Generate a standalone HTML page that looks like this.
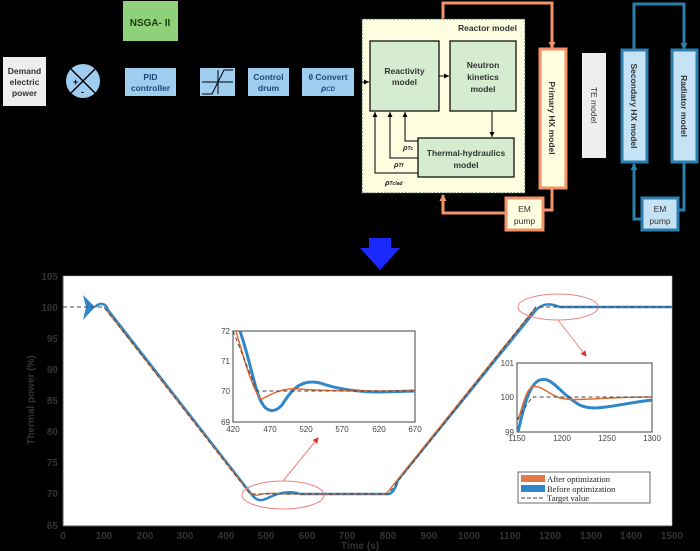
<!DOCTYPE html>
<html><head><meta charset="utf-8"><style>
html,body{margin:0;padding:0;background:#000;}
svg{display:block;font-family:"Liberation Sans",sans-serif;}
</style></head><body>
<svg width="700" height="551" viewBox="0 0 700 551" xmlns="http://www.w3.org/2000/svg">
<rect width="700" height="551" fill="#000"/>
<defs>
<marker id="ak" markerUnits="userSpaceOnUse" markerWidth="5" markerHeight="5" refX="5" refY="2.5" orient="auto"><path d="M0,0 L5,2.5 L0,5z" fill="#000"/></marker>
<marker id="ao" markerUnits="userSpaceOnUse" markerWidth="7" markerHeight="7" refX="6" refY="3.5" orient="auto"><path d="M0,0 L7,3.5 L0,7z" fill="#f4926a"/></marker>
<marker id="ab" markerUnits="userSpaceOnUse" markerWidth="7" markerHeight="7" refX="6" refY="3.5" orient="auto"><path d="M0,0 L7,3.5 L0,7z" fill="#2a7fae"/></marker>
<marker id="ar" markerUnits="userSpaceOnUse" markerWidth="6" markerHeight="6" refX="5" refY="3" orient="auto"><path d="M0,0 L6,3 L0,6z" fill="#e0302a"/></marker>
</defs>
<!-- top diagram -->
<rect x="123" y="1" width="55" height="40" fill="#8fd17a"/>
<text x="150" y="26" font-size="10" font-weight="bold" text-anchor="middle" fill="#1a3a10">NSGA- II</text>
<rect x="3" y="57" width="43" height="49" fill="#eeeeee"/>
<text font-size="8.5" font-weight="bold" fill="#333" text-anchor="middle"><tspan x="24.5" y="74">Demand</tspan><tspan x="24.5" y="85">electric</tspan><tspan x="24.5" y="96">power</tspan></text>
<circle cx="83" cy="81" r="17" fill="#9fcdf0"/>
<path d="M71,69 L95,93 M95,69 L71,93" stroke="#000" stroke-width="1.5"/>
<text x="73" y="85" font-size="9" font-weight="bold">+</text><text x="81" y="95" font-size="9" font-weight="bold">-</text>
<rect x="125" y="68" width="51" height="28" fill="#9fcdf0"/>
<text font-size="8.5" font-weight="bold" fill="#1a4a7a" text-anchor="middle"><tspan x="150.5" y="80">PID</tspan><tspan x="150.5" y="91">controller</tspan></text>
<rect x="200" y="68" width="35" height="28" fill="#9fcdf0"/>
<path d="M202,82 L233,82 M218,70 L218,94 M202,94 L212,94 L224,70 L233,70" stroke="#000" fill="none" stroke-width="1"/>
<rect x="248" y="68" width="41" height="28" fill="#9fcdf0"/>
<text font-size="8.5" font-weight="bold" fill="#1a4a7a" text-anchor="middle"><tspan x="268.5" y="80">Control</tspan><tspan x="268.5" y="91">drum</tspan></text>
<rect x="302" y="68" width="52" height="28" fill="#9fcdf0"/>
<text font-size="8.5" font-weight="bold" fill="#1a4a7a" text-anchor="middle"><tspan x="328" y="80">θ Convert</tspan><tspan x="328" y="91" font-style="italic">ρ<tspan font-size="6">CD</tspan></tspan></text>
<!-- orange loop -->
<path d="M443,19 L443,3 L552,3 L552,48" stroke="#f4926a" stroke-width="3" fill="none" marker-end="url(#ao)"/>
<path d="M552,188 L552,210 L543,210" stroke="#f4926a" stroke-width="3" fill="none"/>
<path d="M506,213 L443,213 L443,195" stroke="#f4926a" stroke-width="3" fill="none" marker-end="url(#ao)"/>
<!-- reactor -->
<rect x="362" y="19" width="163" height="174" fill="#fdfde0" stroke="#2a5a5a" stroke-width="1" stroke-dasharray="2,1.5"/>
<text x="517" y="31" font-size="8.5" font-weight="bold" text-anchor="end" fill="#333">Reactor model</text>
<rect x="370" y="41" width="69" height="70" fill="#d5ecd0" stroke="#000" stroke-width="1.2"/>
<text font-size="8.5" font-weight="bold" fill="#333" text-anchor="middle"><tspan x="404.5" y="74">Reactivity</tspan><tspan x="404.5" y="85">model</tspan></text>
<rect x="450" y="41" width="66" height="70" fill="#d5ecd0" stroke="#000" stroke-width="1.2"/>
<text font-size="8.5" font-weight="bold" fill="#333" text-anchor="middle"><tspan x="483" y="68">Neutron</tspan><tspan x="483" y="80">kinetics</tspan><tspan x="483" y="92">model</tspan></text>
<rect x="418" y="138" width="96" height="39" fill="#d5ecd0" stroke="#000" stroke-width="1.2"/>
<text font-size="8.5" font-weight="bold" fill="#333" text-anchor="middle"><tspan x="466" y="156">Thermal-hydraulics</tspan><tspan x="466" y="168">model</tspan></text>
<path d="M354,82 L369,82" stroke="#000" marker-end="url(#ak)"/>
<path d="M439,76 L449,76" stroke="#000" marker-end="url(#ak)"/>
<path d="M492,111 L492,137" stroke="#000" marker-end="url(#ak)"/>
<path d="M418,141 L405,141 L405,112" stroke="#000" fill="none" marker-end="url(#ak)"/>
<path d="M418,158 L390,158 L390,112" stroke="#000" fill="none" marker-end="url(#ak)"/>
<path d="M418,173 L375,173 L375,112" stroke="#000" fill="none" marker-end="url(#ak)"/>
<text font-size="7.5" font-weight="bold" font-style="italic" fill="#222"><tspan x="403" y="150">ρ<tspan font-size="5">Tc</tspan></tspan><tspan x="394" y="167">ρ<tspan font-size="5">Tf</tspan></tspan><tspan x="385" y="185">ρ<tspan font-size="5">Tclad</tspan></tspan></text>
<rect x="540" y="49" width="26" height="139" fill="#fdfde0" stroke="#f4926a" stroke-width="3"/>
<text transform="translate(549,118) rotate(90)" font-size="8.5" font-weight="bold" text-anchor="middle" fill="#333">Primary HX model</text>
<rect x="506" y="198" width="37" height="32" fill="#fdfde0" stroke="#f4926a" stroke-width="3"/>
<text font-size="8.5" fill="#333" text-anchor="middle"><tspan x="524.5" y="212">EM</tspan><tspan x="524.5" y="224">pump</tspan></text>
<rect x="582" y="53" width="24" height="105" fill="#eeeeee"/>
<text transform="translate(591,105) rotate(90)" font-size="8.5" text-anchor="middle" fill="#333">TE model</text>
<!-- blue loop -->
<path d="M634,50 L634,4 L684,4 L684,49" stroke="#2a7fae" stroke-width="3" fill="none" marker-end="url(#ab)"/>
<path d="M684,162 L684,210 L679,210" stroke="#2a7fae" stroke-width="3" fill="none"/>
<path d="M642,219 L634,219 L634,164" stroke="#2a7fae" stroke-width="3" fill="none" marker-end="url(#ab)"/>
<rect x="622" y="50" width="25" height="112" fill="#c5e3f5" stroke="#2a7fae" stroke-width="3"/>
<text transform="translate(631,106) rotate(90)" font-size="8.5" font-weight="bold" text-anchor="middle" fill="#333">Secondary HX model</text>
<rect x="672" y="50" width="25" height="112" fill="#c5e3f5" stroke="#2a7fae" stroke-width="3"/>
<text transform="translate(681,106) rotate(90)" font-size="8.5" font-weight="bold" text-anchor="middle" fill="#333">Radiator model</text>
<rect x="642" y="198" width="36" height="32" fill="#c5e3f5" stroke="#2a7fae" stroke-width="3"/>
<text font-size="8.5" fill="#333" text-anchor="middle"><tspan x="660" y="212">EM</tspan><tspan x="660" y="224">pump</tspan></text>
<!-- blue arrow -->
<rect x="369" y="238" width="22" height="10" fill="#1a2aff"/>
<path d="M360,248 L400,248 L380,270z" fill="#1a2aff"/>
<!-- plot -->
<rect x="63" y="276" width="609" height="250" fill="#fff"/>
<path d="M63,276 L63,526 L672,526" stroke="#555" stroke-width="1" fill="none"/>
<path d="M63,276 L672,276 L672,526" stroke="#bbb" stroke-width="0.6" fill="none"/>
<g font-size="10" font-weight="bold" fill="#333" text-anchor="end">
<text x="58" y="280">105</text><text x="58" y="311">100</text><text x="58" y="342">95</text><text x="58" y="373">90</text><text x="58" y="404">85</text><text x="58" y="435">80</text><text x="58" y="466">75</text><text x="58" y="497">70</text><text x="58" y="529">65</text>
</g>
<g font-size="10" font-weight="bold" fill="#333" text-anchor="middle">
<text x="63" y="539">0</text><text x="104" y="539">100</text><text x="145" y="539">200</text><text x="185" y="539">300</text><text x="226" y="539">400</text><text x="266" y="539">500</text><text x="307" y="539">600</text><text x="347" y="539">700</text><text x="388" y="539">800</text><text x="429" y="539">900</text><text x="469" y="539">1000</text><text x="510" y="539">1100</text><text x="550" y="539">1200</text><text x="591" y="539">1300</text><text x="631" y="539">1400</text><text x="672" y="539">1500</text>
<text x="360" y="549">Time (s)</text>
</g>
<text transform="translate(34,400) rotate(-90)" font-size="10" font-weight="bold" fill="#333" text-anchor="middle">Thermal power (%)</text>
<!-- curves main -->
<path d="M83,295 L86,307 L83,320 L95,307z" fill="#2f86c8"/>
<path d="M95,307 C100,302 106,303 108,310 L252,495 C258,502 262,501 270,497 C280,492 292,491 300,494 L388,494 C392,494 395,490 398,480 L536,310 C544,302 552,304 560,307 L672,307" stroke="#2f86c8" stroke-width="2.5" fill="none"/>
<path d="M104,307 L248,491 C252,496 256,496 262,494 C270,493 276,493 285,494 L386,494 L536,307" stroke="#e06a30" stroke-width="1.3" fill="none"/>
<path d="M63,307 L104,307 L250,494 L388,494 L536,307 L672,307" stroke="#444" stroke-width="1" fill="none" stroke-dasharray="4,3"/>
<ellipse cx="283" cy="495" rx="41" ry="14" fill="none" stroke="#f08080" stroke-width="1"/>
<ellipse cx="558" cy="307" rx="40" ry="13" fill="none" stroke="#f08080" stroke-width="1"/>
<path d="M283,481 L318,438" stroke="#f08080" fill="none" marker-end="url(#ar)"/>
<path d="M558,320 L586,356" stroke="#f08080" fill="none" marker-end="url(#ar)"/>
<!-- inset 1 -->
<rect x="233" y="331" width="182" height="91" fill="#fff" stroke="#444"/>
<path d="M240,331 C250,360 256,395 262,403 C266,411 274,414 282,405 C290,392 300,378 320,383 C340,390 360,392 380,392 L415,391" stroke="#2f86c8" stroke-width="3" fill="none"/>
<path d="M236,331 C244,360 256,400 262,399 C270,395 282,387 300,389 C320,391 360,391 415,391" stroke="#e06a30" stroke-width="1.5" fill="none"/>
<path d="M233,331 L257,391 L415,391" stroke="#444" stroke-dasharray="4,3" fill="none"/>
<g font-size="8" fill="#444" text-anchor="end"><text x="230" y="334">72</text><text x="230" y="364">71</text><text x="230" y="394">70</text><text x="230" y="425">69</text></g>
<g font-size="8" fill="#444" text-anchor="middle"><text x="233" y="432">420</text><text x="270" y="432">470</text><text x="306" y="432">520</text><text x="342" y="432">570</text><text x="379" y="432">620</text><text x="415" y="432">670</text></g>
<!-- inset 2 -->
<rect x="517" y="363" width="135" height="69" fill="#fff" stroke="#444"/>
<path d="M518,432 C524,405 530,383 540,380 C552,376 560,393 575,402 C590,414 610,405 652,400" stroke="#2f86c8" stroke-width="3" fill="none"/>
<path d="M518,420 C523,405 526,390 532,387 C540,384 548,394 560,398 C575,402 600,397 652,397" stroke="#e06a30" stroke-width="1.5" fill="none"/>
<path d="M517,420 L532,397 L652,397" stroke="#444" stroke-dasharray="4,3" fill="none"/>
<g font-size="8" fill="#444" text-anchor="end"><text x="514" y="366">101</text><text x="514" y="400">100</text><text x="514" y="435">99</text></g>
<g font-size="8" fill="#444" text-anchor="middle"><text x="517" y="441">1150</text><text x="562" y="441">1200</text><text x="607" y="441">1250</text><text x="652" y="441">1300</text></g>
<!-- legend -->
<rect x="518" y="472" width="132" height="31" fill="#fff" stroke="#444" stroke-width="0.8"/>
<rect x="521" y="475" width="24" height="7" fill="#e0784a"/>
<rect x="521" y="485" width="24" height="7" fill="#2f86c8"/>
<path d="M521,498 L545,498" stroke="#444" stroke-dasharray="4,2"/>
<g font-family="Liberation Serif,serif" font-size="8.5" fill="#222"><text x="547" y="482">After optimization</text><text x="547" y="492">Before optimization</text><text x="547" y="501">Target value</text></g>
</svg>
</body></html>
